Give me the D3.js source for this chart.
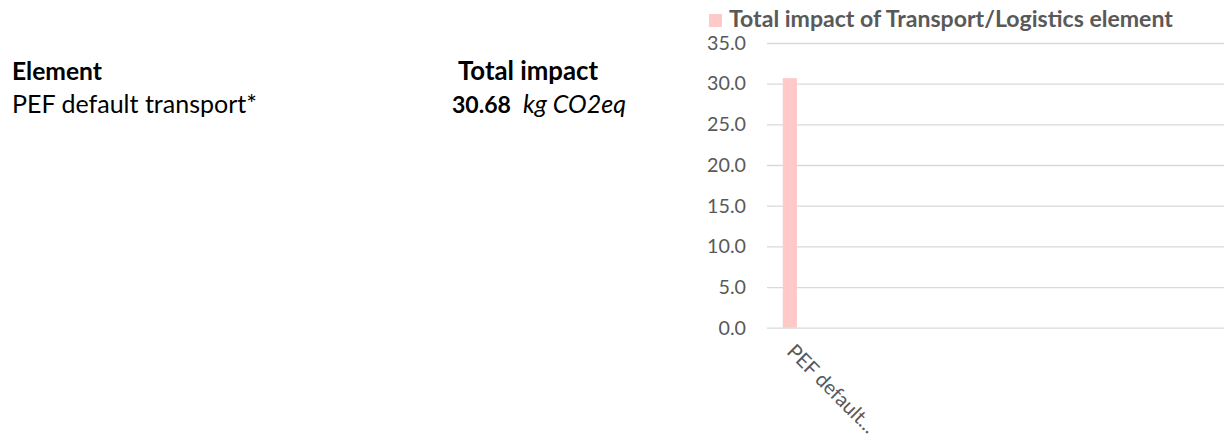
<!DOCTYPE html>
<html>
<head>
<meta charset="utf-8">
<script src="https://cdn.jsdelivr.net/npm/d3@7"></script>
<style>
  body { margin: 0; background: #fff; }
  svg { display: block; font-family: Lato, "Open Sans", sans-serif; }
</style>
</head>
<body>
<script>
// data
var categories = ["PEF default transport*"];
var values = [30.68];
var yTicks = [0, 5, 10, 15, 20, 25, 30, 35];
var seriesName = "Total impact of Transport/Logistics element";
var tableHeader = ["Element", "Total impact"];
var tableUnit = "kg CO2eq";

const w = 1226,
      h = 438,
      plotLeft = 767,
      plotRight = 1224,
      plotTop = 43,
      plotBottom = 327.7,
      slots = 10;

const svg = d3.select("body")
              .append("svg")
              .attr("width", w)
              .attr("height", h);

// scale font size so a text gets the width it has in the original (Calibri is narrower than Lato)
function fit(sel, width) {
    var cur = sel.node().getComputedTextLength();
    sel.attr("font-size", +sel.attr("font-size") * width / cur);
    return sel;
}

// table on the left
fit(svg.append("text")
   .text(tableHeader[0])
   .attr("x", 12).attr("y", 80)
   .attr("font-size", 24).attr("font-weight", "bold")
   .attr("fill", "#000"), 90);

fit(svg.append("text")
   .text(tableHeader[1])
   .attr("x", 458).attr("y", 80)
   .attr("font-size", 24).attr("font-weight", "bold")
   .attr("fill", "#000"), 140);

categories.forEach(function(c, i) {
    var y = 113 + i * 33;
    fit(svg.append("text")
       .text(c)
       .attr("x", 12).attr("y", y)
       .attr("font-size", 24)
       .attr("fill", "#000"), 245);
    fit(svg.append("text")
       .text(values[i].toFixed(2))
       .attr("x", 452).attr("y", y)
       .attr("font-size", 24).attr("font-weight", "bold")
       .attr("fill", "#000"), 59);
    fit(svg.append("text")
       .text(tableUnit)
       .attr("x", 523).attr("y", y)
       .attr("font-size", 24).attr("font-style", "italic")
       .attr("fill", "#000"), 103);
});

// chart
const xScale = d3.scaleBand()
                 .domain(d3.range(slots))
                 .range([plotLeft, plotRight])
                 .paddingInner(0.69)
                 .paddingOuter(0.345);

const yScale = d3.scaleLinear()
                 .domain([0, 35])
                 .range([plotBottom, plotTop]);

const yAxis = svg.append("g")
   .attr("transform", "translate(" + plotLeft + ",0)")
   .call(d3.axisLeft(yScale)
           .tickValues(yTicks)
           .tickFormat(d3.format(".1f"))
           .tickSize(-(plotRight - plotLeft))
           .tickPadding(21));

yAxis.select(".domain").remove();
yAxis.selectAll(".tick line")
     .attr("stroke", "#d9d9d9")
     .attr("stroke-width", 1.3);
yAxis.selectAll(".tick text")
     .attr("fill", "#595959")
     .attr("font-size", 18)
     .attr("font-family", "Lato, sans-serif");

// all tick labels share the size that gives "35.0" its width
var topLabel = yAxis.selectAll(".tick text").filter(d => d === 35);
var tickSize = 18 * 39 / topLabel.node().getComputedTextLength();
yAxis.selectAll(".tick text").attr("font-size", tickSize);

svg.selectAll(".bar")
   .data(values)
   .enter()
   .append("rect")
   .attr("class", "bar")
   .attr("x", (d, i) => xScale(i))
   .attr("width", xScale.bandwidth())
   .attr("y", d => yScale(d))
   .attr("height", d => yScale(0) - yScale(d))
   .attr("fill", "#ffc9c9");

// category labels, rotated and truncated
svg.selectAll(".xlab")
   .data(categories)
   .enter()
   .append("text")
   .attr("class", "xlab")
   .text(d => d.split(" ").slice(0, 2).join(" ") + "...")
   .attr("font-size", 18)
   .attr("fill", "#595959")
   .attr("transform", (d, i) => "translate(" + (xScale(i) + xScale.bandwidth() / 2 - 4) + "," + (plotBottom + 25) + ")rotate(45)")
   .each(function() { fit(d3.select(this), 116); });

// legend / title
svg.append("rect")
   .attr("x", 709).attr("y", 14)
   .attr("width", 13).attr("height", 13)
   .attr("fill", "#ffc9c9");

fit(svg.append("text")
   .text(seriesName)
   .attr("x", 729).attr("y", 27)
   .attr("font-size", 20).attr("font-weight", "bold")
   .attr("fill", "#595959"), 444);
</script>
</body>
</html>
